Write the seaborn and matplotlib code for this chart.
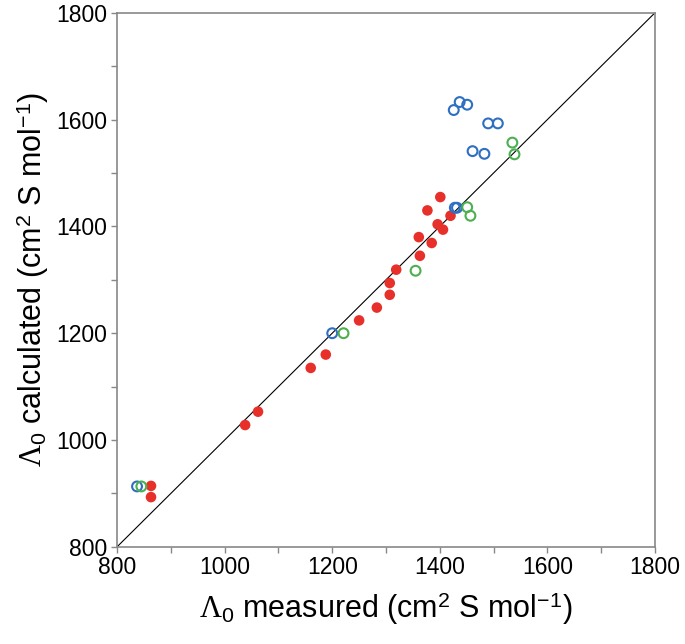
import numpy as np
import pandas as pd
import seaborn as sns
import matplotlib.pyplot as plt

# puntos: medido vs calculado
red_meas = [863, 863, 1038, 1062, 1160, 1188, 1250, 1283, 1307, 1307, 1319,
            1363, 1361, 1385, 1377, 1401, 1396, 1406, 1420]
red_calc = [914, 893, 1028, 1053, 1135, 1160, 1224, 1248, 1272, 1294, 1319,
            1345, 1380, 1369, 1430, 1455, 1404, 1394, 1420]

blue_meas = [837, 1200, 1426, 1437, 1451, 1490, 1508, 1461, 1483, 1428, 1432]
blue_calc = [913, 1200, 1618, 1633, 1628, 1593, 1593, 1541, 1536, 1435, 1435]

green_meas = [845, 1221, 1355, 1451, 1457, 1535, 1539]
green_calc = [913, 1200, 1317, 1436, 1420, 1557, 1535]

ticks = [800, 1000, 1200, 1400, 1600, 1800]

sns.set_style('white')
plt.rcParams['font.family'] = ['Liberation Sans', 'DejaVu Sans']
plt.rcParams['mathtext.fontset'] = 'custom'
plt.rcParams['mathtext.rm'] = 'Liberation Serif'
plt.rcParams['mathtext.it'] = 'Liberation Serif:italic'
plt.rcParams['mathtext.sf'] = 'Liberation Sans'
plt.rcParams['text.color'] = 'black'
plt.rcParams['axes.labelcolor'] = 'black'
plt.rcParams['xtick.labelcolor'] = 'black'
plt.rcParams['ytick.labelcolor'] = 'black'

df_red = pd.DataFrame({'medido': red_meas, 'calculado': red_calc})
df_blue = pd.DataFrame({'medido': blue_meas, 'calculado': blue_calc})
df_green = pd.DataFrame({'medido': green_meas, 'calculado': green_calc})

fig = plt.figure(figsize=(6.85, 6.44), dpi=100)
ax = fig.add_axes([0.171, 0.151, 0.785, 0.829])

# linea 1:1
ax.plot([800, 1800], [800, 1800], color='black', lw=0.8, zorder=1)

sns.scatterplot(data=df_red, x='medido', y='calculado', ax=ax, color='#e8302a',
                s=58, edgecolor='none', zorder=3)
sns.scatterplot(data=df_blue, x='medido', y='calculado', ax=ax, facecolor='none',
                edgecolor='#2f6fc2', s=50, linewidth=1.5, zorder=3)
sns.scatterplot(data=df_green, x='medido', y='calculado', ax=ax, facecolor='none',
                edgecolor='#4caf50', s=50, linewidth=1.5, zorder=3)

ax.set_xlim(800, 1800)
ax.set_ylim(800, 1800)
ax.set_xticks(ticks)
ax.set_yticks(ticks)
ax.set_xticks(np.arange(900, 1800, 200), minor=True)
ax.set_yticks(np.arange(900, 1800, 200), minor=True)
ax.tick_params(which='major', direction='out', length=4, width=1, color='#888888',
               labelsize=16.5, labelcolor='black', pad=3, bottom=True, left=True)
ax.tick_params(which='minor', direction='out', length=4, width=1, color='#888888',
               bottom=True, left=True)
for sp in ax.spines.values():
    sp.set_color('#888888')
    sp.set_linewidth(1.2)

ax.set_xlabel(r'$\Lambda_\mathsf{0}$ measured (cm$^\mathsf{2}$ S mol$^\mathsf{-1}$)',
              fontsize=22, labelpad=8, color='black')
ax.set_ylabel(r'$\mathit{\Lambda}_\mathsf{0}$ calculated (cm$^\mathsf{2}$ S mol$^\mathsf{-1}$)',
              fontsize=22, labelpad=4, color='black')

fig.savefig('out.png', dpi=100)
